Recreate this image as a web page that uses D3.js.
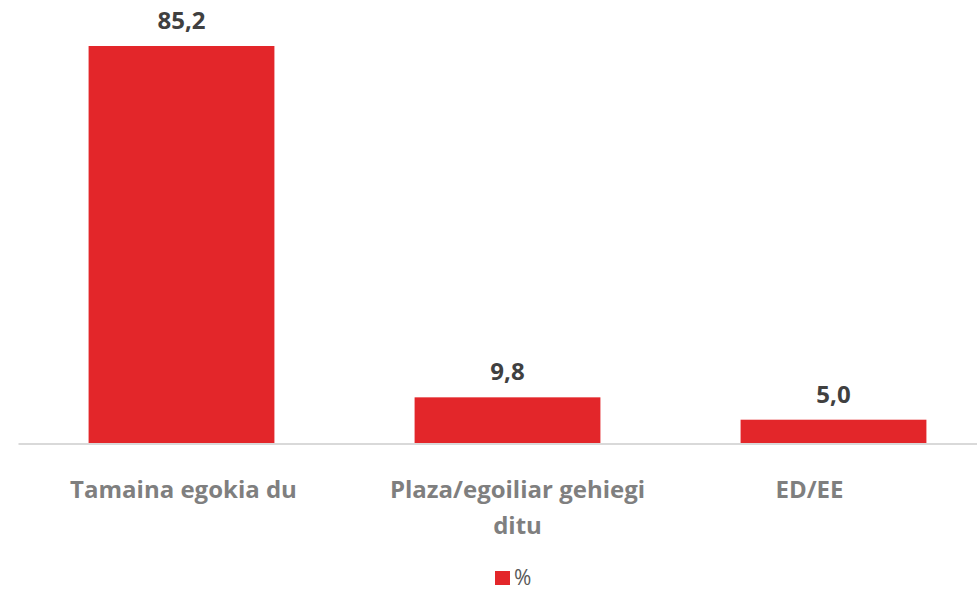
<!DOCTYPE html>
<html>
<head>
<meta charset="utf-8">
<script src="https://cdn.jsdelivr.net/npm/d3@7"></script>
<style>
  body { margin: 0; background: #fff; overflow: hidden; }
  text { font-family: 'Open Sans', sans-serif; }
</style>
</head>
<body>
<svg id="chart" width="977" height="591"></svg>
<script>
// Data
const categories = ['Tamaina egokia du', 'Plaza/egoiliar gehiegi ditu', 'ED/EE'];
const categoryLines = [['Tamaina egokia du'], ['Plaza/egoiliar gehiegi', 'ditu'], ['ED/EE']];
const values = [85.2, 9.8, 5.0];
const seriesName = '%';

const svg = d3.select('#chart');
// the plot area runs a little past the right edge of the picture
const plot = { left: 18.5, right: 996.5, top: 46, bottom: 443 };
// the axis labels in the original sit slightly off the bar centres
const labelDx = [2, 10, -24];

const xScale = d3.scaleBand()
  .domain(categories)
  .range([plot.left, plot.right])
  .paddingInner(0.43)
  .paddingOuter(0.215);

const yScale = d3.scaleLinear()
  .domain([0, 85.2])
  .range([plot.bottom, plot.top]);

const fmt = v => v.toFixed(1).replace('.', ',');

// bars
svg.append('g')
  .selectAll('rect')
  .data(values)
  .join('rect')
  .attr('x', (d, i) => xScale(categories[i]))
  .attr('y', d => yScale(d))
  .attr('width', xScale.bandwidth())
  .attr('height', d => yScale(0) - yScale(d))
  .attr('fill', '#e3262a');

// baseline
svg.append('line')
  .attr('x1', plot.left)
  .attr('x2', 977)
  .attr('y1', plot.bottom + 1)
  .attr('y2', plot.bottom + 1)
  .attr('stroke', '#d9d9d9')
  .attr('stroke-width', 2);

// value labels
svg.append('g')
  .selectAll('text')
  .data(values)
  .join('text')
  .attr('x', (d, i) => xScale(categories[i]) + xScale.bandwidth() / 2)
  .attr('y', d => yScale(d) - 17)
  .attr('text-anchor', 'middle')
  .attr('font-size', '24px')
  .attr('font-weight', 'bold')
  .attr('fill', '#404040')
  .text(fmt);

// category labels
const cat = svg.append('g')
  .selectAll('text')
  .data(categoryLines)
  .join('text')
  .attr('x', (d, i) => xScale(categories[i]) + xScale.bandwidth() / 2 + labelDx[i])
  .attr('y', 498)
  .attr('text-anchor', 'middle')
  .attr('font-size', '24px')
  .attr('font-weight', 'bold')
  .attr('fill', '#7f7f7f');

cat.selectAll('tspan')
  .data(d => d)
  .join('tspan')
  .attr('x', function () { return this.parentNode.getAttribute('x'); })
  .attr('dy', (d, i) => i === 0 ? 0 : 36)
  .text(d => d);

// legend
const legend = svg.append('g').attr('transform', 'translate(495,571)');
legend.append('rect')
  .attr('width', 15)
  .attr('height', 14)
  .attr('fill', '#e3262a');
legend.append('text')
  .attr('x', 19)
  .attr('y', 14)
  .attr('font-size', '21px')
  .attr('fill', '#595959')
  .text(seriesName);
</script>
</body>
</html>
